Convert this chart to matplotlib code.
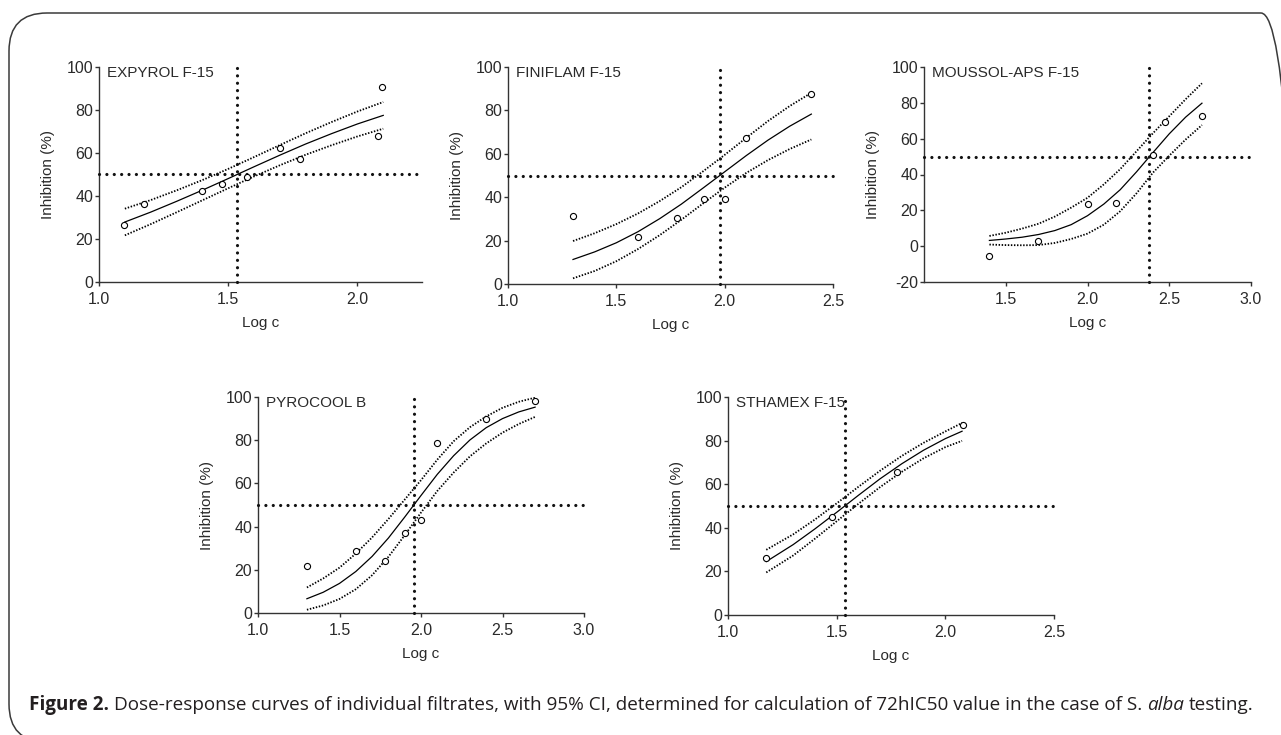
"""Dose-response curves (72hIC50, S. alba) for five filtrates, 2 + 3 panel layout."""

import matplotlib
matplotlib.use("Agg")
import matplotlib.pyplot as plt
import matplotlib.patches as mpatches
import matplotlib.transforms as mtransforms
from matplotlib.font_manager import FontProperties

W, H, DPI = 1281, 735, 100

# ---------------------------------------------------------------------------
# Data (x = log c, y = inhibition %)
# ---------------------------------------------------------------------------

# EXPYROL F-15
EXP_X    = [1.097, 1.176, 1.398, 1.477, 1.574, 1.699, 1.778, 2.079, 2.097]
EXP_Y    = [26.7, 36.4, 42.5, 45.4, 49.0, 62.5, 57.4, 68.1, 90.5]
EXP_CX   = [1.10, 1.20, 1.30, 1.40, 1.50, 1.60, 1.70, 1.80, 1.90, 2.00, 2.10]
EXP_FIT  = [27.9, 32.5, 37.5, 42.7, 48.1, 53.6, 59.0, 64.2, 69.0, 73.5, 77.5]
EXP_UP   = [34.1, 38.1, 42.6, 47.4, 52.6, 58.1, 63.7, 69.2, 74.4, 79.3, 83.7]
EXP_LO   = [21.7, 26.9, 32.4, 38.0, 43.6, 49.1, 54.3, 59.2, 63.6, 67.7, 71.3]
EXP_IC50 = 1.534

# FINIFLAM F-15
FIN_X    = [1.301, 1.602, 1.778, 1.903, 2.000, 2.097, 2.398]
FIN_Y    = [31.4, 21.7, 30.2, 39.0, 39.2, 67.5, 87.7]
FIN_CX   = [1.3, 1.4, 1.5, 1.6, 1.7, 1.8, 1.9, 2.0, 2.1, 2.2, 2.3, 2.4]
FIN_FIT  = [11.3, 14.8, 19.0, 24.1, 30.1, 36.8, 44.2, 51.7, 59.2, 66.3, 72.7, 78.3]
FIN_UP   = [19.8, 23.4, 27.6, 32.5, 38.2, 44.6, 51.9, 59.5, 67.4, 75.1, 82.0, 88.1]
FIN_LO   = [2.6, 6.0, 10.5, 16.1, 22.5, 29.6, 37.1, 44.4, 51.2, 57.1, 62.2, 66.6]
FIN_IC50 = 1.977

# MOUSSOL-APS F-15
MOU_X    = [1.398, 1.699, 2.000, 2.176, 2.398, 2.477, 2.699]
MOU_Y    = [-5.4, 2.7, 23.6, 23.9, 50.7, 69.1, 72.6]
MOU_CX   = [1.4, 1.5, 1.6, 1.7, 1.8, 1.9, 2.0, 2.1, 2.2, 2.3, 2.4, 2.5, 2.6, 2.7]
MOU_FIT  = [3.2, 4.0, 5.0, 6.5, 8.7, 12.0, 17.0, 23.5, 31.5, 41.5, 52.2, 62.7, 72.0, 79.8]
MOU_UP   = [5.7, 7.5, 9.8, 12.5, 16.5, 21.5, 27.0, 34.5, 43.0, 53.0, 63.0, 72.5, 82.0, 90.9]
MOU_LO   = [0.9, 0.6, 0.5, 0.6, 1.8, 4.0, 7.0, 12.0, 19.5, 29.5, 41.0, 50.5, 59.5, 67.6]
MOU_IC50 = 2.379

# PYROCOOL B
PYR_X    = [1.301, 1.602, 1.778, 1.903, 2.000, 2.097, 2.398, 2.699]
PYR_Y    = [21.8, 28.6, 24.2, 37.2, 43.1, 78.9, 89.7, 98.2]
PYR_CX   = [1.3, 1.4, 1.5, 1.6, 1.7, 1.8, 1.9, 2.0, 2.1, 2.2, 2.3, 2.4, 2.5, 2.6, 2.7]
PYR_FIT  = [6.6, 9.6, 13.7, 19.2, 26.2, 34.7, 44.4, 54.4, 64.2, 72.8, 80.1, 85.8, 90.0, 93.1, 95.3]
PYR_UP   = [11.8, 16.0, 21.0, 27.5, 35.0, 43.5, 52.5, 61.5, 71.0, 79.5, 86.0, 91.0, 95.0, 97.8, 99.7]
PYR_LO   = [1.5, 3.5, 6.5, 11.0, 17.5, 26.0, 36.0, 46.5, 56.5, 65.0, 72.5, 78.5, 83.5, 87.5, 90.8]
PYR_IC50 = 1.956

# STHAMEX F-15
STH_X    = [1.176, 1.479, 1.778, 2.079]
STH_Y    = [26.0, 45.0, 65.8, 87.0]
STH_CX   = [1.176, 1.3, 1.4, 1.5, 1.6, 1.7, 1.8, 1.9, 2.0, 2.077]
STH_FIT  = [24.5, 32.3, 39.5, 47.1, 54.9, 62.5, 69.4, 75.6, 80.9, 84.3]
STH_UP   = [29.9, 37.0, 43.8, 51.2, 58.8, 66.2, 73.0, 79.0, 84.2, 88.1]
STH_LO   = [19.5, 27.3, 35.0, 43.0, 51.0, 58.7, 65.7, 71.9, 77.0, 79.9]
STH_IC50 = 1.537

# axis ranges / ticks
X_TICKS_A = [1.0, 1.5, 2.0]
X_TICKS_B = [1.0, 1.5, 2.0, 2.5]
X_TICKS_C = [1.5, 2.0, 2.5, 3.0]
X_TICKS_D = [1.0, 1.5, 2.0, 2.5, 3.0]
Y_TICKS   = [0, 20, 40, 60, 80, 100]
Y_TICKS_N = [-20, 0, 20, 40, 60, 80, 100]

CAPTION_PARTS = [
    ("Figure 2.", "bold", "normal"),
    ("Dose-response curves of individual filtrates, with 95% CI, determined "
     "for calculation of 72hIC50 value in the case of S.", "normal", "normal"),
    ("alba", "normal", "italic"),
    ("testing.", "normal", "normal"),
]

# ---------------------------------------------------------------------------
# Layout (pixel boxes: left, top, right, bottom)
# ---------------------------------------------------------------------------

PANELS = [
    ("EXPYROL F-15", EXP_X, EXP_Y, EXP_CX, EXP_FIT, EXP_UP, EXP_LO, EXP_IC50,
     (1.0, 2.25), X_TICKS_A, (0, 100), Y_TICKS, (99, 67, 422, 282)),
    ("FINIFLAM F-15", FIN_X, FIN_Y, FIN_CX, FIN_FIT, FIN_UP, FIN_LO, FIN_IC50,
     (1.0, 2.5), X_TICKS_B, (0, 100), Y_TICKS, (508, 67, 833, 284)),
    ("MOUSSOL-APS F-15", MOU_X, MOU_Y, MOU_CX, MOU_FIT, MOU_UP, MOU_LO, MOU_IC50,
     (1.0, 3.0), X_TICKS_C, (-20, 100), Y_TICKS_N, (924, 67, 1251, 282)),
    ("PYROCOOL B", PYR_X, PYR_Y, PYR_CX, PYR_FIT, PYR_UP, PYR_LO, PYR_IC50,
     (1.0, 3.0), X_TICKS_D, (0, 100), Y_TICKS, (258, 397, 584, 613)),
    ("STHAMEX F-15", STH_X, STH_Y, STH_CX, STH_FIT, STH_UP, STH_LO, STH_IC50,
     (1.0, 2.5), X_TICKS_B, (0, 100), Y_TICKS, (728, 397, 1054, 615)),
]

TEXT_C = "#2a2a2a"
AXIS_C = "#333333"
PANEL_FONT = ["Liberation Sans", "DejaVu Sans"]
CAP_FONT = "Open Sans"

plt.rcParams["font.family"] = PANEL_FONT


def draw_panel(fig, name, px, py, cx, fit, up, lo, ic50, xlim, xticks, ylim, yticks, box):
    left, top, right, bottom = box
    ax = fig.add_axes([left / W, 1 - bottom / H, (right - left) / W, (bottom - top) / H])

    # 95% CI (fine dots) and fitted curve
    ax.plot(cx, up, color="black", lw=1.3, ls=(0, (0.8, 0.9)), zorder=2)
    ax.plot(cx, lo, color="black", lw=1.3, ls=(0, (0.8, 0.9)), zorder=2)
    ax.plot(cx, fit, color="black", lw=0.9, zorder=2)

    # IC50 guide lines (coarse round dots)
    dots = dict(color="#111111", lw=2.3, ls=(0, (0.01, 2.3)),
                dash_capstyle="round", clip_on=False, zorder=3)
    ax.plot([ic50, ic50], ylim, **dots)
    ax.plot(xlim, [50, 50], **dots)

    ax.plot(px, py, "o", ms=4.4, mfc="white", mec="black", mew=0.8,
            zorder=4, clip_on=False)

    ax.set_xlim(xlim)
    ax.set_ylim(ylim)
    ax.set_xticks(xticks)
    ax.set_yticks(yticks)
    ax.set_xticklabels([f"{v:.1f}" for v in xticks])
    ax.set_yticklabels([f"{v:d}" for v in yticks])

    for s in ("top", "right"):
        ax.spines[s].set_visible(False)
    for s in ("left", "bottom"):
        ax.spines[s].set_color(AXIS_C)
        ax.spines[s].set_linewidth(1.0)
    ax.tick_params(axis="both", direction="out", length=3.2, width=1.0,
                   color=AXIS_C, labelsize=11.5, labelcolor=TEXT_C)
    ax.tick_params(axis="x", pad=4.0)
    ax.tick_params(axis="y", pad=1.0)

    ax.set_xlabel("Log c", fontsize=11, color=TEXT_C, labelpad=6.5)
    ax.set_ylabel("Inhibition (%)", fontsize=11, color=TEXT_C, labelpad=8)
    ax.annotate(name, xy=(0, 1), xycoords="axes fraction", xytext=(6, -4.5),
                textcoords="offset points", ha="left", va="center",
                fontsize=11, color=TEXT_C)
    ax.patch.set_alpha(0)
    return ax


fig = plt.figure(figsize=(W / DPI, H / DPI), dpi=DPI)
fig.patch.set_facecolor("white")

for p in PANELS:
    draw_panel(fig, *p)

# rounded frame around the figure (runs off the right and bottom edges)
frame = mpatches.FancyBboxPatch(
    (9, -7), 1290, 729, boxstyle="round,pad=0,rounding_size=38",
    transform=mtransforms.IdentityTransform(), fill=False,
    ec="#3a3a3a", lw=1.1)
fig.add_artist(frame)

# caption, mixed bold / regular / italic, fitted to the original width
renderer = fig.canvas.get_renderer()


def text_w(s, size, weight="normal", style="normal"):
    fp = FontProperties(family=CAP_FONT, size=size, weight=weight, style=style)
    return renderer.get_text_width_height_descent(s, fp, ismath=False)[0]


base = 14.0
space = text_w("a a", base) - text_w("aa", base)
total = sum(text_w(s, base, w, st) for s, w, st in CAPTION_PARTS) + space * (len(CAPTION_PARTS) - 1)
cap_size = base * (1260 - 29) / total
space *= cap_size / base

x = 29.0
for s, w, st in CAPTION_PARTS:
    fig.text(x / W, 1 - 710 / H, s, ha="left", va="baseline", family=CAP_FONT,
             fontsize=cap_size, fontweight=w, fontstyle=st, color="#231f20")
    x += text_w(s, cap_size, w, st) + space

fig.savefig("out.png", dpi=DPI, facecolor="white")
